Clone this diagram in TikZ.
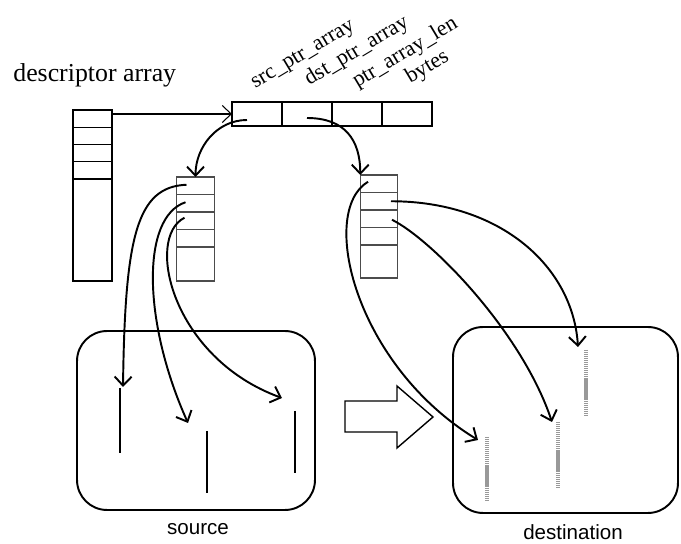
\documentclass[tikz,border=0pt]{standalone}
\usepackage{fontspec}
\setmainfont{Liberation Serif}
\newfontfamily\memfont{Liberation Sans}
\usetikzlibrary{positioning,arrows.meta}

\tikzset{
  dcell/.style={draw, minimum width=0.78cm, minimum height=0.345cm, inner sep=0pt, outer sep=0pt, line width=0.6pt},
  pcell/.style={draw=black!70, minimum width=0.75cm, minimum height=0.35cm, inner sep=0pt, outer sep=0pt, line width=0.6pt},
  rcell/.style={draw, minimum width=1cm, minimum height=0.48cm, inner sep=0pt, outer sep=0pt, line width=0.6pt},
  fieldname/.style={font=\fontsize{12.5}{14}\selectfont, rotate=31, anchor=base west, inner sep=0pt},
  memory/.style={draw, rounded corners=0.6cm, line width=1.1pt, inner sep=0pt},
  memname/.style={font=\memfont\fontsize{11.7}{14}\selectfont, inner sep=0pt},
  ptr/.style={line width=1.1pt, -{Straight Barb[length=1.8mm,width=3.4mm]}},
  link/.style={line width=0.6pt, -{Straight Barb[length=1.8mm,width=3.4mm]}},
  srcblk/.style={line width=1.2pt},
  dstblk/.style={draw=gray!80, line width=1.8pt, dash pattern=on 0.7pt off 0.45pt},
}

\begin{document}
\begin{tikzpicture}[x=0.02cm, y=-0.02cm]
\useasboundingbox (0,0) rectangle (681,544);
% descriptor array
\node[anchor=base west, inner sep=0pt, font=\fontsize{14.7}{17}\selectfont] (dtitle) at (13,82) {descriptor array};
\foreach \i in {1,...,4}
  \node[dcell] (d\i) at (92.5,101.4+17.25*\i) {};
\node[dcell, minimum height=2.04cm, below=0pt of d4] (d5) {};
\draw[line width=1.2pt] (d1.north west) rectangle (d5.south east);
% the descriptor
\foreach \n [count=\i] in {src,dst,len,bytes}
  \node[rcell] (\n) at (207+50*\i,114) {};
\node[fieldname] (lsrc) at (255,89) {src\_ptr\_array};
\node[fieldname] (ldst) at (309,86) {dst\_ptr\_array};
\node[fieldname] (llen) at (357,88) {ptr\_array\_len};
\node[fieldname] (lbytes) at (410,84) {bytes};
% pointer arrays
\foreach \i in {1,...,4} {
  \node[pcell] (lp\i) at (195.5,168.25+17.5*\i) {};
  \node[pcell] (rp\i) at (379,166.25+17.5*\i) {};
}
\node[pcell, minimum height=0.68cm, below=0pt of lp4] (lp5) {};
\node[pcell, minimum height=0.66cm, below=0pt of rp4] (rp5) {};
% memories
\node[memory, minimum width=4.76cm, minimum height=3.58cm] (source) at (196,420.5) {};
\node[memory, minimum width=4.5cm, minimum height=3.72cm] (destination) at (565.5,420) {};
\node[memname] (srcname) at (198,529) {source};
\node[memname] (dstname) at (573,532) {destination};
\coordinate (sa) at (120,388);
\coordinate (sb) at (207,431);
\coordinate (sc) at (295,411);
\coordinate (da) at (487,437);
\coordinate (db) at (558,422);
\coordinate (dc) at (586,350);
\draw[srcblk] (sa) -- ++(0,65) (sb) -- ++(0,62) (sc) -- ++(0,62);
\draw[dstblk] (da) -- ++(0,63) (db) -- ++(0,65) (dc) -- ++(0,65);
% copy arrow
\draw[line width=0.8pt] (345,401) -- (397,401) -- (397,386) -- (433,417) -- (397,448) -- (397,432) -- (345,432) -- cycle;
% pointers
\draw[link] (d1.east |- src.west) -- (src.west);
\draw[ptr] ([shift={(-10,6)}]src.center) .. controls +(-30,0) and +(0,-30) .. (lp1.north);
\draw[ptr] ([shift={(0,4)}]dst.center) .. controls +(38,0) and +(0,-35) .. (rp1.north west);
\draw[ptr] ([shift={(-9,-1)}]lp1.center) .. controls +(-50,2) and +(2,-150) .. ([shift={(3,-1)}]sa);
\draw[ptr] ([shift={(-10,-1)}]lp2.center) .. controls +(-45,15) and +(-45,-100) .. ([shift={(-19,-8)}]sb);
\draw[ptr] ([shift={(-11,-3)}]lp3.center) .. controls +(-40,20) and +(-110,-40) .. ([shift={(-13,-13)}]sc);
\draw[ptr] ([shift={(-11,-2)}]rp1.center) .. controls +(-50,30) and +(-123,-75) .. ([shift={(-9,3)}]da);
\draw[ptr] ([shift={(12,0)}]rp2.center) .. controls +(110,0) and +(-5,-80) .. ([shift={(-8,-3)}]dc);
\draw[ptr] ([shift={(13,1)}]rp3.center) .. controls +(40,20) and +(-30,-90) .. ([shift={(-6,0)}]db);
\end{tikzpicture}
\end{document}
